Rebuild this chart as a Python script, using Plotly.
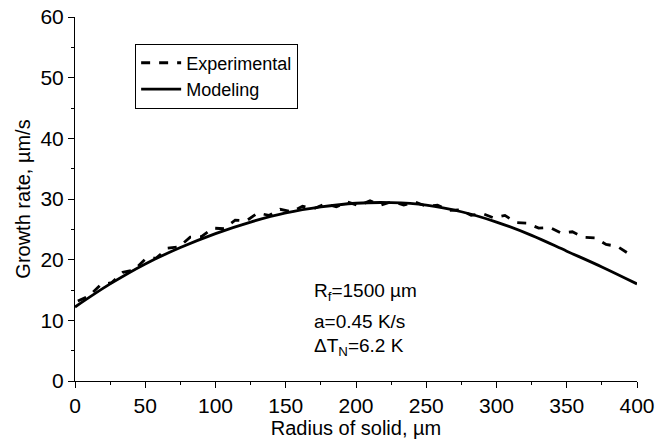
import plotly.graph_objects as go

# Experimental data (noisy, dashed)
exp_x = [2, 10, 18, 26, 34, 42, 50, 58, 66, 74, 82, 90, 98, 106, 114, 122, 130, 138, 146, 154,
         162, 170, 178, 186, 194, 202, 210, 218, 226, 234, 242, 250, 258, 266, 274, 282, 290,
         298, 306, 314, 322, 330, 338, 346, 354, 362, 370, 378, 386, 394, 398]
exp_y = [13.2, 14.0, 15.8, 16.2, 17.9, 18.3, 20.1, 20.3, 21.9, 22.1, 23.7, 23.8, 25.2, 25.1,
         26.5, 26.4, 27.7, 27.3, 28.3, 27.9, 28.8, 28.4, 29.2, 28.7, 29.5, 28.9, 29.7, 29.0,
         29.6, 29.0, 29.5, 28.8, 29.0, 28.1, 28.2, 27.3, 27.6, 26.9, 27.3, 26.1, 26.0, 25.2,
         25.3, 24.4, 24.6, 23.7, 23.6, 22.5, 22.2, 21.0, 20.9]

# Modeling curve
mod_x = [0, 25, 50, 75, 100, 125, 150, 175, 200, 225, 250, 275, 300, 325, 350, 375, 400]
mod_y = [12.2, 16.0, 19.3, 22.0, 24.3, 26.2, 27.7, 28.7, 29.3, 29.4, 29.0, 27.9, 26.2, 24.0,
         21.4, 18.8, 16.0]

x_ticks = [0, 50, 100, 150, 200, 250, 300, 350, 400]
y_ticks = [0, 10, 20, 30, 40, 50, 60]

FONT = "Liberation Sans, Arial, sans-serif"

fig = go.Figure()
fig.add_trace(go.Scatter(x=exp_x, y=exp_y, mode="lines", name="Experimental",
                         line=dict(color="black", width=2.8, dash="dash")))
fig.add_trace(go.Scatter(x=mod_x, y=mod_y, mode="lines", name="Modeling",
                         line=dict(color="black", width=2.8, shape="spline")))

axis_common = dict(showline=True, linecolor="black", linewidth=1, showgrid=False,
                   zeroline=False, ticks="outside", ticklen=6, tickcolor="black",
                   tickfont=dict(family=FONT, size=21, color="black"), mirror=False,
                   automargin=False, ticklabeloverflow="allow")

fig.update_xaxes(range=[0, 400], tickvals=x_ticks,
                 minor=dict(dtick=25, ticks="outside", ticklen=3, tickcolor="black", showgrid=False),
                 title=dict(text="Radius of solid, µm", font=dict(family=FONT, size=20, color="black"),
                            standoff=2),
                 **axis_common)
fig.update_yaxes(range=[0, 60], tickvals=y_ticks,
                 minor=dict(dtick=5, ticks="outside", ticklen=3, tickcolor="black", showgrid=False),
                 title=dict(text="Growth rate, µm/s", font=dict(family=FONT, size=20, color="black"),
                            standoff=4),
                 **axis_common)

ann_font = dict(family=FONT, size=19, color="black")
fig.add_annotation(x=169, y=14.6, xref="x", yref="y", text="R<sub>f</sub>=1500 µm",
                   showarrow=False, xanchor="left", yanchor="middle", font=ann_font)
fig.add_annotation(x=169, y=9.8, xref="x", yref="y", text="a=0.45 K/s",
                   showarrow=False, xanchor="left", yanchor="middle", font=ann_font)
fig.add_annotation(x=169, y=5.6, xref="x", yref="y", text="ΔT<sub>N</sub>=6.2 K",
                   showarrow=False, xanchor="left", yanchor="middle", font=ann_font)

fig.update_layout(
    width=666, height=443,
    margin=dict(l=75, r=29, t=17, b=62),
    paper_bgcolor="white", plot_bgcolor="white",
    showlegend=True,
    legend=dict(x=0.107, y=0.927, xanchor="left", yanchor="top",
                bordercolor="black", borderwidth=1, bgcolor="white",
                font=dict(family=FONT, size=18, color="black"),
                tracegroupgap=0, itemwidth=40),
)

# Remove the default 8px body margin so the figure fills the window exactly.
fig.write_html("out.html",
               config={"displayModeBar": False},
               post_script="document.body.style.margin='0';document.body.style.overflow='hidden';")
